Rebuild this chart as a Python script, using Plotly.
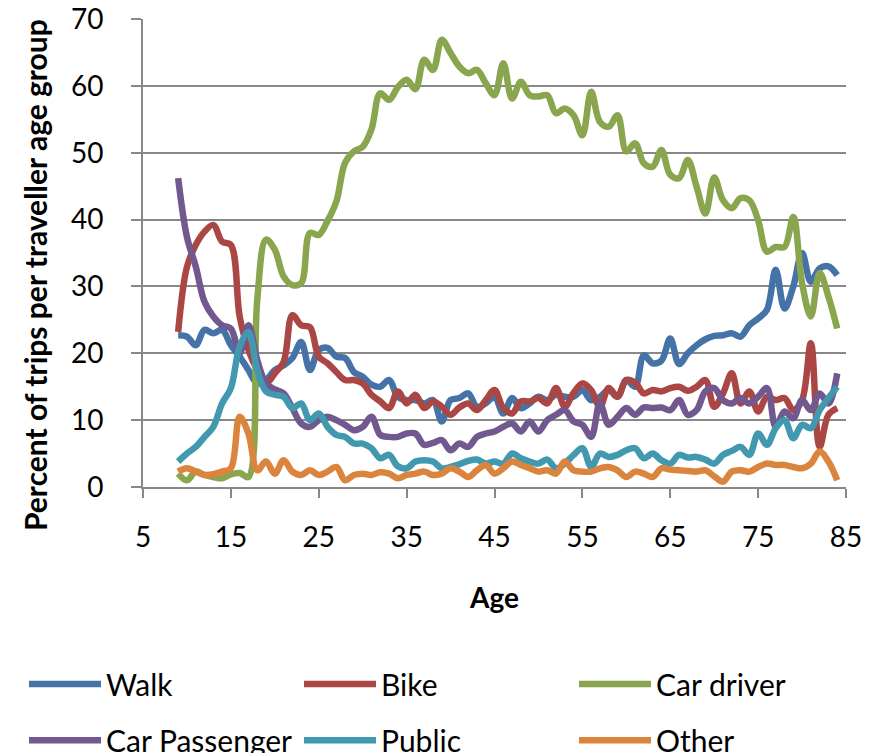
import plotly.graph_objects as go

ages = list(range(9, 85))

walk = [22.7, 22.5, 21.2, 23.5, 23.0, 23.5, 21.2, 19.5, 17.5, 15.5,
        16.0, 17.5, 18.2, 19.3, 21.7, 17.5, 20.5, 20.8, 19.5, 19.3,
        17.2, 16.5, 15.3, 15.0, 16.0, 13.5, 13.0, 13.0, 12.5, 13.0,
        9.8, 13.0, 13.3, 14.0, 12.0, 12.5, 13.5, 11.0, 13.3, 11.8,
        12.5, 13.5, 13.0, 13.8, 13.5, 13.5, 14.5, 13.0, 13.5, 14.5,
        13.5, 16.0, 15.0, 19.7, 18.5, 18.9, 22.2, 18.4, 20.0, 21.2,
        22.1, 22.6, 22.7, 23.0, 22.5, 24.2, 25.2, 26.5, 32.5, 26.7,
        30.0, 35.0, 30.7, 32.7, 33.0, 31.7]

bike = [23.2, 32.9, 36.2, 38.2, 39.2, 36.7, 36.2, 25.5, 20.5, 17.5,
        15.5, 17.0, 18.7, 25.7, 24.2, 23.9, 19.5, 18.5, 17.2, 16.0,
        16.0, 15.5, 13.8, 12.8, 11.8, 14.3, 12.5, 13.8, 11.8, 12.8,
        12.0, 10.8, 11.9, 12.5, 11.5, 13.0, 14.5, 11.8, 11.0, 12.8,
        12.8, 13.3, 12.5, 14.8, 12.0, 14.1, 15.5, 14.5, 12.0, 14.8,
        13.5, 16.0, 15.6, 14.0, 14.5, 14.3, 14.8, 15.0, 14.4, 15.0,
        16.0, 12.0, 14.0, 17.0, 12.5, 14.3, 11.3, 13.5, 13.0, 13.3,
        11.5, 13.0, 21.5, 6.0, 10.8, 11.8]

car_driver = [2.0, 1.0, 2.3, 1.8, 1.5, 1.3, 1.9, 2.1, 1.5, 28.0,
              37.0, 35.5, 31.5, 30.2, 30.5, 38.0, 37.7, 39.8, 42.7, 48.5,
              50.2, 50.9, 53.5, 58.9, 57.9, 59.8, 60.9, 59.5, 63.9, 62.4,
              66.9, 64.9, 62.9, 61.9, 62.4, 60.4, 58.6, 63.4, 58.1, 60.6,
              58.6, 58.4, 58.6, 55.9, 56.6, 55.6, 52.6, 59.1, 54.6, 53.9,
              55.6, 50.2, 51.4, 48.4, 47.9, 50.4, 46.7, 46.2, 48.9, 44.9,
              40.9, 46.3, 42.9, 41.7, 43.2, 42.9, 39.9, 35.2, 35.9, 35.9,
              40.4, 30.5, 25.5, 32.0, 28.5, 23.7]

car_passenger = [46.2, 37.4, 33.0, 27.7, 25.5, 24.2, 23.7, 20.0, 24.2, 19.0,
                 15.5, 14.6, 14.0, 11.8, 9.5, 9.0, 10.0, 10.5, 10.0, 9.3,
                 8.5, 9.0, 10.5, 7.8, 7.5, 7.5, 8.0, 8.0, 6.3, 6.6,
                 7.0, 5.5, 6.5, 6.0, 7.5, 8.0, 8.3, 9.0, 9.5, 8.3,
                 9.8, 8.3, 10.0, 10.8, 11.5, 9.8, 9.3, 7.5, 12.5, 9.3,
                 10.5, 11.8, 10.8, 11.9, 11.8, 11.9, 11.5, 13.0, 10.8, 11.5,
                 14.3, 14.8, 13.0, 12.5, 13.3, 12.5, 13.5, 14.8, 9.0, 11.3,
                 10.3, 13.0, 11.5, 14.0, 12.5, 17.0]

public = [3.8, 5.0, 6.0, 7.5, 9.0, 12.5, 14.8, 21.0, 23.2, 17.5,
          14.3, 13.8, 13.5, 11.8, 12.5, 10.0, 11.0, 9.0, 7.8, 7.5,
          6.5, 6.5, 5.8, 4.3, 4.8, 3.1, 2.8, 3.8, 4.0, 3.8,
          2.8, 3.0, 3.4, 3.9, 4.1, 3.5, 3.8, 3.5, 5.0, 4.3,
          3.8, 3.5, 4.1, 2.8, 3.5, 4.8, 5.8, 3.0, 5.0, 4.5,
          4.8, 5.5, 5.8, 4.3, 5.0, 4.0, 3.5, 4.8, 4.4, 4.5,
          4.1, 3.5, 4.8, 5.4, 6.0, 4.8, 8.0, 6.3, 8.8, 10.0,
          7.3, 9.3, 8.8, 11.5, 13.3, 15.0]

other = [2.3, 2.8, 2.3, 1.8, 1.9, 2.3, 2.8, 10.5, 8.0, 2.5,
         3.8, 2.0, 4.0, 2.3, 1.8, 2.5, 1.8, 2.3, 3.0, 1.0,
         1.8, 2.0, 1.8, 2.2, 2.0, 1.3, 1.8, 2.0, 2.3, 1.8,
         2.0, 2.8, 2.3, 1.5, 2.5, 3.3, 2.0, 2.8, 3.8, 3.3,
         2.8, 2.3, 2.5, 2.0, 3.8, 2.5, 2.3, 2.3, 2.8, 3.0,
         2.5, 1.5, 2.3, 2.0, 1.5, 2.8, 2.6, 2.5, 2.4, 2.3,
         2.5, 1.6, 0.8, 2.3, 2.5, 2.3, 3.0, 3.5, 3.3, 3.3,
         3.0, 2.8, 3.5, 5.3, 3.8, 1.0]

names = ["Walk", "Bike", "Car driver", "Car Passenger", "Public", "Other"]
values = [walk, bike, car_driver, car_passenger, public, other]
colors = ["#4572A7", "#AA4643", "#89A54E", "#71588F", "#4198AF", "#DB843D"]

FONT = "Lato, Carlito, Calibri, sans-serif"
GRID = "#888888"

# legend grid: 3 columns x 2 rows below the plot (paper coords)
col_x = [-0.1693, 0.2219, 0.6131]
row_y = [-0.421, -0.541]

fig = go.Figure()
legends = {}
for i, (name, vals, color) in enumerate(zip(names, values, colors)):
    key = "legend" if i == 0 else f"legend{i + 1}"
    fig.add_trace(go.Scatter(
        x=ages, y=vals, name=name, mode="lines",
        line=dict(color=color, width=6.5, shape="spline", smoothing=1),
        legend=key, showlegend=True,
    ))
    legends[key] = dict(
        orientation="h", xanchor="left", yanchor="middle",
        x=col_x[i % 3], y=row_y[i // 3], itemwidth=72,
        font=dict(family=FONT, size=30, color="black"),
        bgcolor="rgba(0,0,0,0)",
    )

# the page body adds an 8px offset, so margins are shifted by 8px
fig.update_layout(
    width=872, height=753, showlegend=True,
    margin=dict(l=135, r=34, t=11, b=274, autoexpand=False),
    plot_bgcolor="white", paper_bgcolor="white",
    font=dict(family=FONT, color="black"),
    xaxis=dict(
        range=[5, 85], tick0=5, dtick=10, showgrid=False,
        showline=True, linecolor=GRID, linewidth=2,
        ticks="outside", ticklen=9, tickwidth=2, tickcolor=GRID,
        ticklabelstandoff=15, ticklabeloverflow="allow",
        tickfont=dict(family=FONT, size=28, color="black"),
        title=dict(text="<b>Age</b>", font=dict(family=FONT, size=28, color="black"),
                   standoff=37),
    ),
    yaxis=dict(
        range=[0, 70], dtick=10, showgrid=True, gridcolor=GRID, gridwidth=2,
        showline=True, linecolor=GRID, linewidth=2, zeroline=False,
        ticks="outside", ticklen=10, tickwidth=2, tickcolor=GRID,
        ticklabelstandoff=22, ticklabeloverflow="allow",
        tickfont=dict(family=FONT, size=28, color="black"),
    ),
    annotations=[dict(
        text="<b>Percent of trips per traveller age group</b>",
        xref="paper", yref="paper", x=-0.1536, y=0.453,
        xanchor="center", yanchor="middle", textangle=-90, showarrow=False,
        font=dict(family=FONT, size=30, color="black"),
    )],
)
fig.update_layout(**legends)

fig.write_html("out.html")
